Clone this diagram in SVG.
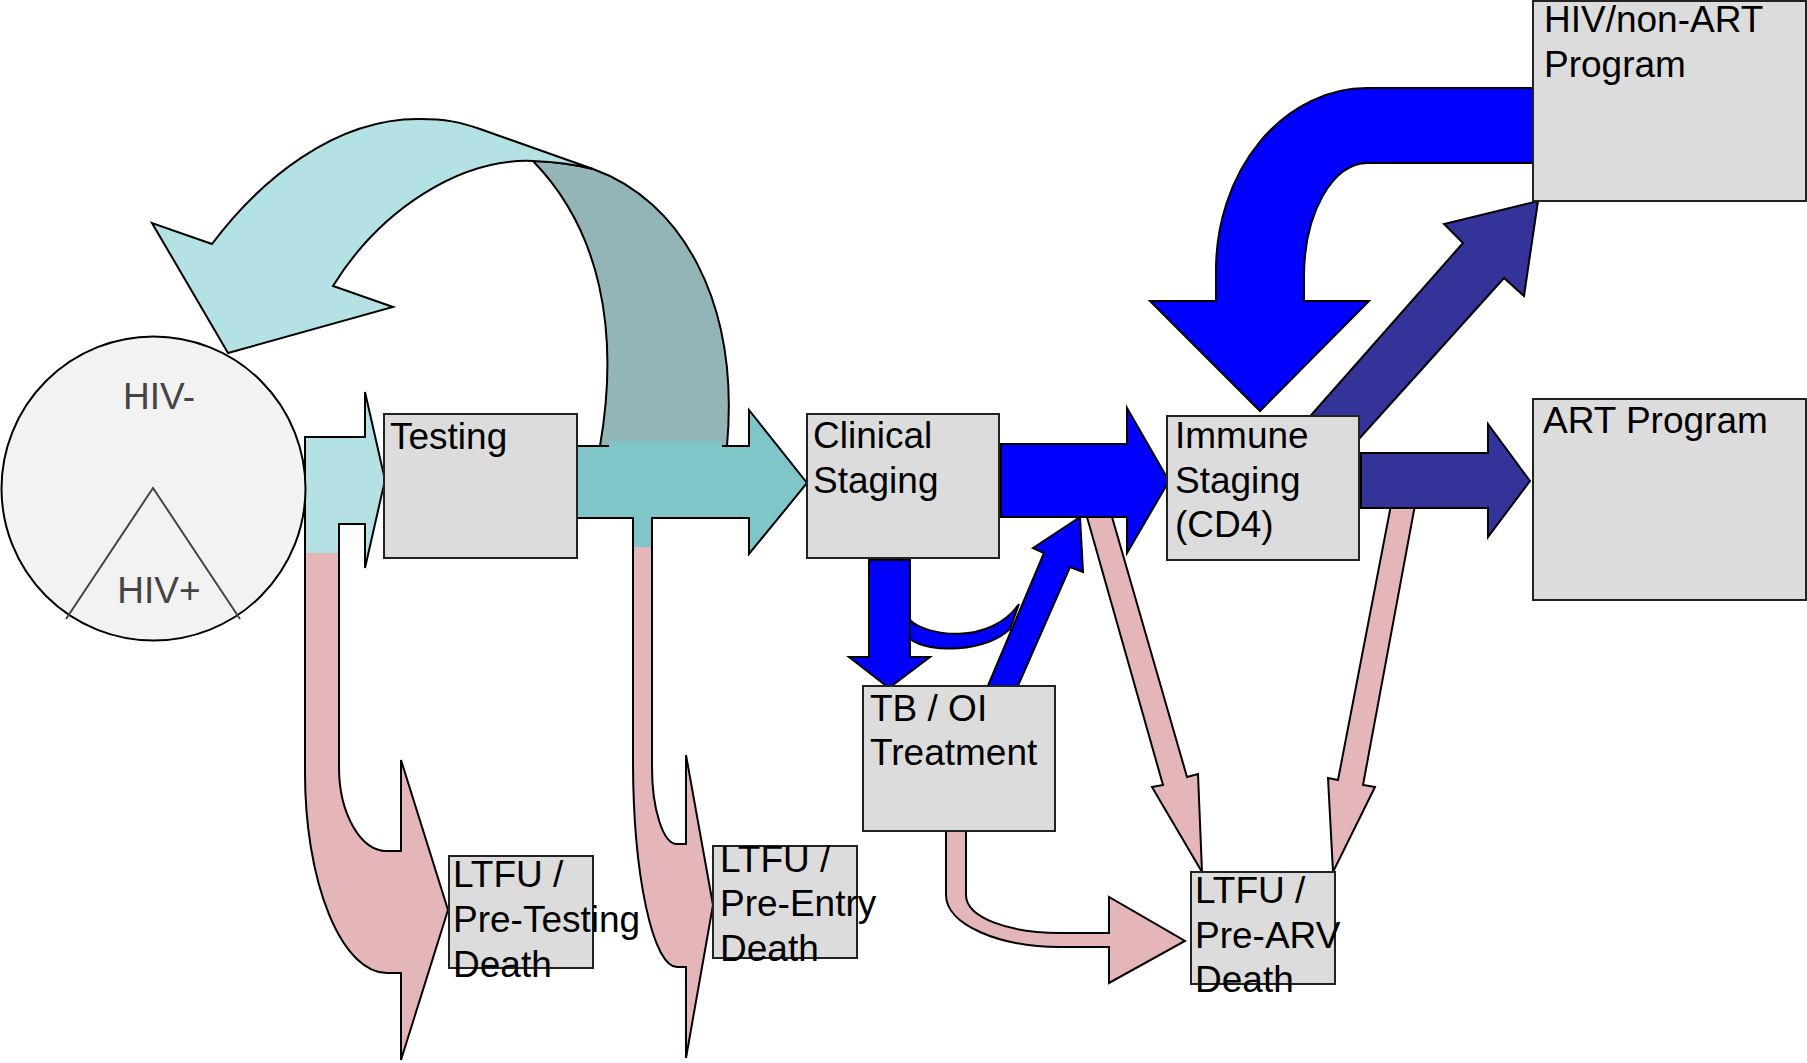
<svg xmlns="http://www.w3.org/2000/svg" xmlns:xlink="http://www.w3.org/1999/xlink" width="1807" height="1063" viewBox="0 0 1807 1063">
  <style>
    .box { fill: #dcdcdc; stroke: #222; stroke-width: 2; }
    .lbl { font-family: "Liberation Sans", Arial, sans-serif; font-size: 37px; fill: #000; }
    .hiv { font-family: "Liberation Sans", Arial, sans-serif; font-size: 37px; fill: #444; text-anchor: middle; }
    .ln { stroke: #000; stroke-width: 2; stroke-linejoin: miter; }
    .outline { fill: none; stroke: #000; stroke-width: 2; }
    .cyanL { fill: #b4e1e4; }
    .cyanM { fill: #80c5c8; }
    .teal { fill: #93b5b7; }
    .pink { fill: #e5b6b9; }
    .blue { fill: #0000ff; }
    .navy { fill: #333399; }
  </style>
  <defs>
    <!-- entry arrow into Testing that splits into the pre-testing loss arrow -->
    <path id="entryShape" d="M305,437 L365,437 L365,392 L385,480 L365,568 L365,524 L339,524 L339,767 A48,84 0 0 0 387,851 L401,851 L401,760 L448,910 L401,1060 L401,973 L387,973 A82,200 0 0 1 305,773 Z"/>
    <!-- Testing to Clinical Staging arrow with the pre-entry loss branch -->
    <path id="testShape" d="M577,446 L749,446 L749,410 L807,483 L749,554 L749,518 L652,518 L652,767 A25,77 0 0 0 677,844 L686,844 L686,755 L713,905 L686,1058 L686,967 L677,967 A44,207 0 0 1 633,760 L633,518 L577,518 Z"/>
  </defs>

  <g id="connectors">
    <!-- entry arrow: pink body, cyan head -->
    <use xlink:href="#entryShape" class="pink"/>
    <polygon class="cyanL" points="305,437 365,437 365,392 385,480 365,568 365,524 339,524 339,553 305,553"/>
    <use xlink:href="#entryShape" class="outline"/>

    <!-- Testing to Clinical Staging -->
    <use xlink:href="#testShape" class="pink"/>
    <polygon class="cyanM" points="577,446 749,446 749,410 807,483 749,554 749,518 652,518 652,547 633,547 633,518 577,518"/>
    <use xlink:href="#testShape" class="outline"/>

    <!-- return loop to HIV- : back face, then front face -->
    <path class="teal ln" d="M533,161 Q565,162 593,169 C680,200 740,300 727,446 L600,446 C620,330 600,230 533,161 Z"/>
    <rect x="609" y="441" width="113" height="9" class="cyanM"/>
    <path class="cyanL ln" d="M228,353 L152,223 L212,244 C260,180 335,118 420,119 C445,119 460,122 480,129 L593,169 Q565,162 533,161 C460,158 380,210 333,286 L393,307 Z"/>

    <!-- losses towards pre-ARV death -->
    <path class="pink ln" d="M946,829 L946,895 C946,925 1000,947 1060,947 L1109,947 L1109,983 L1185,941 L1109,897 L1109,933 L1060,933 C1010,933 966,918 966,895 L966,829 Z"/>
    <polygon class="pink ln" points="1085,510 1163,785 1152,787 1202,872 1198,774 1187,777 1110,510"/>
    <polygon class="pink ln" points="1391,505 1338,780 1328,778 1333,872 1375,787 1363,785 1415,505"/>

    <!-- Clinical Staging to Immune Staging -->
    <polygon class="blue ln" points="1001,444 1127,444 1127,408 1169,481 1127,553 1127,517 1001,517"/>
    <!-- Clinical Staging down to TB / OI Treatment -->
    <polygon class="blue ln" points="869,560 910,560 910,657 930,657 889,688 849,657 869,657"/>
    <!-- loop band joining treatment flow -->
    <path class="blue ln" d="M910,620 C925,636 990,646 1019,604 L1010,629 C985,652 930,654 910,639 Z"/>
    <!-- TB / OI Treatment up to Immune Staging -->
    <polygon class="blue ln" points="987,688 1044,553 1033,548 1080,517 1083,572 1070,567 1017,688"/>

    <!-- HIV/non-ART Program back to Immune Staging -->
    <path class="blue ln" d="M1536,88 L1367,88 A151,182 0 0 0 1216,270 L1216,301 L1150,301 L1260,411 L1369,301 L1304,301 L1304,277 A63,114 0 0 1 1367,163 L1536,163 Z"/>

    <!-- Immune Staging to programs -->
    <polygon class="navy ln" points="1298,430 1463,243 1444,224 1538,201 1524,296 1504,278 1349,450"/>
    <polygon class="navy ln" points="1361,453 1488,453 1488,424 1530,481 1488,537 1488,508 1361,508"/>
  </g>

  <g id="node-population">
    <circle cx="153.5" cy="488.5" r="152" fill="#f2f2f2" stroke="#000" stroke-width="2"/>
    <polyline points="66,619 153,488 240,619" fill="none" stroke="#444" stroke-width="2"/>
    <text class="hiv" x="159" y="409">HIV-</text>
    <text class="hiv" x="159" y="603">HIV+</text>
  </g>

  <g id="node-testing">
    <rect class="box" x="384" y="414" width="193" height="144"/>
    <text class="lbl" x="390" y="449">Testing</text>
  </g>

  <g id="node-clinical">
    <rect class="box" x="807" y="414" width="192" height="144"/>
    <text class="lbl" x="813" y="448">Clinical</text>
    <text class="lbl" x="813" y="493">Staging</text>
  </g>

  <g id="node-immune">
    <rect class="box" x="1167" y="416" width="192" height="144"/>
    <text class="lbl" x="1175" y="448">Immune</text>
    <text class="lbl" x="1175" y="493">Staging</text>
    <text class="lbl" x="1175" y="537">(CD4)</text>
  </g>

  <g id="node-non-art">
    <rect class="box" x="1533" y="1" width="273" height="200"/>
    <text class="lbl" x="1544" y="32">HIV/non-ART</text>
    <text class="lbl" x="1544" y="77">Program</text>
  </g>

  <g id="node-art">
    <rect class="box" x="1533" y="399" width="273" height="201"/>
    <text class="lbl" x="1543" y="433">ART Program</text>
  </g>

  <g id="node-tb">
    <rect class="box" x="863" y="686" width="192" height="145"/>
    <text class="lbl" x="870" y="721">TB / OI</text>
    <text class="lbl" x="870" y="765">Treatment</text>
  </g>

  <g id="node-ltfu-testing">
    <rect class="box" x="449" y="856" width="144" height="112"/>
    <text class="lbl" x="453" y="887">LTFU /</text>
    <text class="lbl" x="453" y="932">Pre-Testing</text>
    <text class="lbl" x="453" y="977">Death</text>
  </g>

  <g id="node-ltfu-entry">
    <rect class="box" x="713" y="846" width="144" height="112"/>
    <text class="lbl" x="720" y="872">LTFU /</text>
    <text class="lbl" x="720" y="916">Pre-Entry</text>
    <text class="lbl" x="720" y="961">Death</text>
  </g>

  <g id="node-ltfu-arv">
    <rect class="box" x="1191" y="872" width="144" height="112"/>
    <text class="lbl" x="1195" y="903">LTFU /</text>
    <text class="lbl" x="1195" y="948">Pre-ARV</text>
    <text class="lbl" x="1195" y="992">Death</text>
  </g>
</svg>
